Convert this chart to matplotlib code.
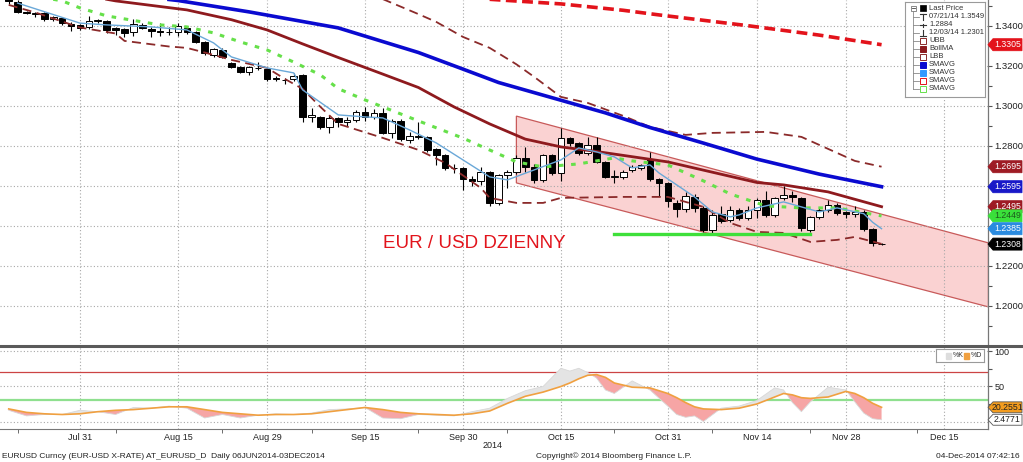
import numpy as np
import pandas as pd
import matplotlib
matplotlib.use('Agg')
import matplotlib.pyplot as plt
from matplotlib.patches import Polygon, Rectangle
from matplotlib.lines import Line2D
from matplotlib.transforms import blended_transform_factory
from matplotlib import font_manager

names = {f.name for f in font_manager.fontManager.ttflist}
NARROW = 'Liberation Sans Narrow' in names
plt.rcParams['font.family'] = ['Liberation Sans Narrow', 'Liberation Sans', 'DejaVu Sans'] if NARROW else ['Liberation Sans', 'DejaVu Sans']

# ---------------- DATA ----------------
BASE = '2014-07-21'
candle_dates = pd.bdate_range('2014-07-21', '2014-12-04')

opens = [1.3535, 1.3520, 1.3467, 1.3461, 1.3465, 1.3435, 1.3437, 1.3408, 1.3402, 1.3392,
         1.3425, 1.3425, 1.3387, 1.3382, 1.3368, 1.3403, 1.3385, 1.3372, 1.3368, 1.3367,
         1.3390, 1.3367, 1.3320, 1.3254, 1.3278, 1.3212, 1.3195, 1.3167, 1.3190, 1.3182,
         1.3140, 1.3130, 1.3132, 1.3153, 1.2945, 1.2945, 1.2892, 1.2937, 1.2920, 1.2928,
         1.2970, 1.2942, 1.2962, 1.2862, 1.2925, 1.2830, 1.2845, 1.2845, 1.2782, 1.2753,
         1.2688, 1.2687, 1.2632, 1.2623, 1.2670, 1.2512, 1.2653, 1.2670, 1.2737, 1.2692,
         1.2628, 1.2753, 1.2665, 1.2837, 1.2812, 1.2762, 1.2803, 1.2720, 1.2645, 1.2645,
         1.2678, 1.2687, 1.2732, 1.2632, 1.2615, 1.2515, 1.2482, 1.2545, 1.2487, 1.2379,
         1.2457, 1.2429, 1.2479, 1.2437, 1.2479, 1.2529, 1.2454, 1.2537, 1.2554, 1.2537,
         1.2379, 1.2445, 1.2479, 1.2504, 1.2467, 1.2457, 1.2470, 1.2382, 1.2308]
highs = [1.3549, 1.3528, 1.3473, 1.3470, 1.3470, 1.3450, 1.3445, 1.3420, 1.3410, 1.3448,
         1.3435, 1.3430, 1.3395, 1.3390, 1.3432, 1.3412, 1.3392, 1.3415, 1.3395, 1.3415,
         1.3398, 1.3372, 1.3325, 1.3290, 1.3290, 1.3220, 1.3200, 1.3198, 1.3220, 1.3190,
         1.3148, 1.3140, 1.3165, 1.3160, 1.2990, 1.2950, 1.2953, 1.2945, 1.2945, 1.2978,
         1.2995, 1.2985, 1.2990, 1.2935, 1.2935, 1.2870, 1.2920, 1.2850, 1.2790, 1.2760,
         1.2710, 1.2695, 1.2650, 1.2695, 1.2675, 1.2660, 1.2680, 1.2753, 1.2795, 1.2710,
         1.2760, 1.2760, 1.2887, 1.2845, 1.2820, 1.2845, 1.2845, 1.2725, 1.2680, 1.2680,
         1.2705, 1.2710, 1.2770, 1.2640, 1.2620, 1.2528, 1.2570, 1.2560, 1.2500, 1.2478,
         1.2500, 1.2500, 1.2490, 1.2500, 1.2540, 1.2575, 1.2545, 1.2600, 1.2575, 1.2545,
         1.2450, 1.2490, 1.2530, 1.2512, 1.2475, 1.2500, 1.2478, 1.2390, 1.2312]
lows = [1.3510, 1.3462, 1.3458, 1.3445, 1.3425, 1.3425, 1.3405, 1.3375, 1.3378, 1.3382,
        1.3415, 1.3362, 1.3352, 1.3345, 1.3348, 1.3385, 1.3342, 1.3348, 1.3353, 1.3350,
        1.3360, 1.3315, 1.3255, 1.3245, 1.3240, 1.3190, 1.3165, 1.3154, 1.3178, 1.3125,
        1.3125, 1.3110, 1.3125, 1.2920, 1.2920, 1.2885, 1.2862, 1.2895, 1.2900, 1.2920,
        1.2925, 1.2935, 1.2858, 1.2837, 1.2825, 1.2815, 1.2835, 1.2770, 1.2703, 1.2680,
        1.2665, 1.2579, 1.2600, 1.2604, 1.2500, 1.2505, 1.2588, 1.2660, 1.2670, 1.2615,
        1.2620, 1.2655, 1.2625, 1.2800, 1.2755, 1.2755, 1.2715, 1.2640, 1.2615, 1.2635,
        1.2670, 1.2680, 1.2625, 1.2548, 1.2494, 1.2445, 1.2470, 1.2470, 1.2370, 1.2360,
        1.2415, 1.2420, 1.2430, 1.2430, 1.2440, 1.2445, 1.2445, 1.2530, 1.2520, 1.2375,
        1.2370, 1.2435, 1.2470, 1.2455, 1.2440, 1.2445, 1.2375, 1.2301, 1.2302]
closes = [1.3522, 1.3470, 1.3465, 1.3463, 1.3432, 1.3442, 1.3412, 1.3398, 1.3388, 1.3425,
          1.3427, 1.3378, 1.3378, 1.3365, 1.3408, 1.3390, 1.3373, 1.3370, 1.3370, 1.3400,
          1.3370, 1.3320, 1.3262, 1.3282, 1.3245, 1.3195, 1.3170, 1.3192, 1.3187, 1.3134,
          1.3132, 1.3128, 1.3150, 1.2945, 1.2953, 1.2895, 1.2937, 1.2917, 1.2928, 1.2970,
          1.2942, 1.2962, 1.2862, 1.2925, 1.2832, 1.2849, 1.2847, 1.2778, 1.2753, 1.2687,
          1.2690, 1.2632, 1.2625, 1.2670, 1.2512, 1.2653, 1.2670, 1.2737, 1.2695, 1.2628,
          1.2753, 1.2662, 1.2837, 1.2812, 1.2762, 1.2803, 1.2720, 1.2645, 1.2647, 1.2670,
          1.2695, 1.2703, 1.2632, 1.2615, 1.2525, 1.2482, 1.2548, 1.2487, 1.2379, 1.2453,
          1.2423, 1.2479, 1.2437, 1.2479, 1.2529, 1.2454, 1.2537, 1.2554, 1.2542, 1.2387,
          1.2445, 1.2479, 1.2504, 1.2465, 1.2457, 1.2470, 1.2382, 1.2312, 1.2308]

sma200_dates = ['2014-10-03', '2014-10-15', '2014-10-24', '2014-10-30', '2014-11-13', '2014-11-25', '2014-12-04']
sma200_vals = [1.3532, 1.3509, 1.3477, 1.3454, 1.3400, 1.3353, 1.3305]

sma100_dates = ['2014-08-14', '2014-08-15', '2014-08-27', '2014-09-10', '2014-09-23', '2014-09-30', '2014-10-06',
                '2014-10-14', '2014-10-22', '2014-10-29', '2014-11-06', '2014-11-14', '2014-11-25', '2014-12-04']
sma100_vals = [1.3531, 1.3526, 1.3469, 1.3389, 1.3266, 1.3183, 1.3116, 1.3040, 1.2964, 1.2891, 1.2813, 1.2733, 1.2658, 1.2595]

bollma_dates = ['2014-08-05', '2014-08-06', '2014-08-18', '2014-08-25', '2014-08-29', '2014-09-04', '2014-09-10',
                '2014-09-17', '2014-09-23', '2014-09-29', '2014-10-03', '2014-10-09', '2014-10-15', '2014-10-21',
                '2014-10-31', '2014-11-14', '2014-11-19', '2014-11-26', '2014-12-04']
bollma_vals = [1.3532, 1.3524, 1.3479, 1.3430, 1.3379, 1.3309, 1.3241, 1.3158, 1.3091, 1.2994, 1.2909, 1.2833,
               1.2794, 1.2771, 1.2719, 1.2616, 1.2604, 1.2569, 1.2495]

sma_green_dates = ['2014-07-28', '2014-07-29', '2014-07-31', '2014-08-05', '2014-08-13', '2014-08-18', '2014-08-21',
                   '2014-08-26', '2014-08-29', '2014-09-03', '2014-09-08', '2014-09-10', '2014-09-15', '2014-09-23',
                   '2014-09-30', '2014-10-08', '2014-10-13', '2014-10-17', '2014-10-23', '2014-10-27', '2014-10-31',
                   '2014-11-06', '2014-11-11', '2014-11-17', '2014-11-21', '2014-11-27', '2014-12-04']
sma_green_vals = [1.3532, 1.3524, 1.3489, 1.3449, 1.3404, 1.3394, 1.3364, 1.3319, 1.3279, 1.3218, 1.3154, 1.3085,
                  1.3029, 1.2924, 1.2838, 1.2719, 1.2694, 1.2709, 1.2739, 1.2724, 1.2704, 1.2624, 1.2559, 1.2499,
                  1.2489, 1.2489, 1.2449]

sma_fast_dates = ['2014-07-22', '2014-07-31', '2014-08-05', '2014-08-12', '2014-08-18', '2014-08-21', '2014-08-25',
                  '2014-08-29', '2014-09-03', '2014-09-04', '2014-09-10', '2014-09-15', '2014-09-17', '2014-09-22',
                  '2014-09-25', '2014-09-30', '2014-10-03', '2014-10-07', '2014-10-10', '2014-10-15', '2014-10-17',
                  '2014-10-21', '2014-10-23', '2014-10-27', '2014-10-29', '2014-10-30', '2014-11-03', '2014-11-05',
                  '2014-11-07', '2014-11-11', '2014-11-12', '2014-11-14', '2014-11-19', '2014-11-21', '2014-11-25',
                  '2014-11-27', '2014-12-02', '2014-12-03', '2014-12-04']
sma_fast_vals = [1.3513, 1.3413, 1.3404, 1.3394, 1.3379, 1.3314, 1.3244, 1.3189, 1.3164, 1.3079, 1.2954, 1.2944,
                 1.2939, 1.2879, 1.2814, 1.2729, 1.2644, 1.2629, 1.2679, 1.2729, 1.2789, 1.2769, 1.2744, 1.2689,
                 1.2704, 1.2664, 1.2604, 1.2544, 1.2469, 1.2444, 1.2454, 1.2489, 1.2519, 1.2494, 1.2469, 1.2489,
                 1.2460, 1.2417, 1.2385]

lbb_dates = ['2014-07-21', '2014-07-24', '2014-07-31', '2014-08-06', '2014-08-07', '2014-08-14', '2014-08-18',
             '2014-08-20', '2014-08-25', '2014-08-29', '2014-09-02', '2014-09-04', '2014-09-08', '2014-09-10',
             '2014-09-17', '2014-09-23', '2014-09-26', '2014-10-02', '2014-10-03', '2014-10-08', '2014-10-13',
             '2014-10-15', '2014-10-24', '2014-10-31', '2014-11-06', '2014-11-11', '2014-11-14', '2014-11-19',
             '2014-11-24', '2014-11-27', '2014-12-01', '2014-12-04']
lbb_vals = [1.3504, 1.3466, 1.3391, 1.3361, 1.3324, 1.3296, 1.3289, 1.3266, 1.3229, 1.3189, 1.3134, 1.3084,
            1.2994, 1.2909, 1.2839, 1.2779, 1.2714, 1.2589, 1.2539, 1.2514, 1.2514, 1.2539, 1.2544, 1.2544,
            1.2494, 1.2414, 1.2369, 1.2364, 1.2319, 1.2329, 1.2344, 1.2309]

ubb_dates = ['2014-09-17', '2014-09-23', '2014-09-25', '2014-09-30', '2014-10-03', '2014-10-08', '2014-10-10',
             '2014-10-15', '2014-10-20', '2014-10-24', '2014-10-29', '2014-11-04', '2014-11-07', '2014-11-17',
             '2014-11-21', '2014-11-27', '2014-12-01', '2014-12-04']
ubb_vals = [1.3533, 1.3458, 1.3419, 1.3344, 1.3289, 1.3207, 1.3144, 1.3044, 1.3014, 1.2949, 1.2894, 1.2854,
            1.2864, 1.2869, 1.2844, 1.2764, 1.2724, 1.2695]

channel_dates = ['2014-10-08', '2014-12-22']
channel_top = [1.2948, 1.2314]
channel_bottom = [1.2614, 1.1994]
support_dates = ['2014-10-23', '2014-11-24']
support_level = 1.2358

osc_dates = ['2014-07-21', '2014-07-23', '2014-07-25', '2014-07-29', '2014-07-31', '2014-08-04', '2014-08-06',
             '2014-08-08', '2014-08-12', '2014-08-14', '2014-08-18', '2014-08-20', '2014-08-22', '2014-08-26',
             '2014-08-28', '2014-09-01', '2014-09-03', '2014-09-05', '2014-09-09', '2014-09-11', '2014-09-15',
             '2014-09-17', '2014-09-19', '2014-09-23', '2014-09-25', '2014-09-29', '2014-10-01', '2014-10-03',
             '2014-10-07', '2014-10-09', '2014-10-13', '2014-10-15', '2014-10-16', '2014-10-17', '2014-10-20',
             '2014-10-21', '2014-10-22', '2014-10-23', '2014-10-27', '2014-10-29', '2014-10-31', '2014-11-03',
             '2014-11-04', '2014-11-05', '2014-11-06', '2014-11-10', '2014-11-12', '2014-11-14', '2014-11-18',
             '2014-11-19', '2014-11-20', '2014-11-21', '2014-11-24', '2014-11-26', '2014-11-28', '2014-12-01',
             '2014-12-02', '2014-12-03', '2014-12-04']
stoch_d = [18, 13, 11, 10, 11, 14, 16, 17, 19, 21, 21, 17, 13, 11, 9, 10, 10, 11, 14, 17, 20, 17, 13, 11, 10,
           9, 11, 15, 26, 36, 42, 50, 55, 61, 66, 67, 63, 55, 49, 48, 40, 34, 27, 21, 18, 17, 19, 25, 35, 40,
           38, 34, 33, 35, 43, 40, 34, 26, 20.2551]
stoch_k = [16, 8, 10, 10, 16, 14, 10, 20, 19, 22, 19, 5, 10, 5, 9, 11, 10, 12, 17, 18, 20, 5, 4, 10, 9,
           8, 14, 19, 33, 44, 50, 76, 72, 76, 70, 62, 45, 40, 58, 45, 22, 10, 6, 8, 0, 19, 22, 30, 48, 45,
           27, 14, 28, 49, 45, 28, 12, 4, 2.4771]

xtick_dates = ['2014-07-31', '2014-08-15', '2014-08-29', '2014-09-15', '2014-09-30', '2014-10-15',
               '2014-10-31', '2014-11-14', '2014-11-28', '2014-12-15']
xtick_labels = ['Jul 31', 'Aug 15', 'Aug 29', 'Sep 15', 'Sep 30', 'Oct 15', 'Oct 31', 'Nov 14', 'Nov 28', 'Dec 15']
xminor_dates = ['2014-07-22', '2014-08-06', '2014-08-22', '2014-09-05', '2014-09-23', '2014-10-07',
                '2014-10-23', '2014-11-07', '2014-11-24', '2014-12-10']
ytick_vals = [1.20, 1.22, 1.24, 1.26, 1.28, 1.30, 1.32, 1.34]
ytick_labels = ['1.2000', '1.2200', '', '', '1.2800', '1.3000', '1.3200', '1.3400']

price_tags = [(1.3305, '1.3305', '#e3131b', 'white'),
              (1.2695, '1.2695', '#9e1b24', 'white'),
              (1.2595, '1.2595', '#1818c8', 'white'),
              (1.2495, '1.2495', '#9e1b24', 'white'),
              (1.2449, '1.2449', '#3ae03a', '#1d5a1d'),
              (1.2385, '1.2385', '#2a8be0', 'white'),
              (1.2308, '1.2308', '#000000', 'white')]
osc_tags = [(20.2551, '20.2551', '#f39c1e', '#222222'),
            (2.4771, '2.4771', '#ffffff', '#222222')]


def didx(d):
    return np.busday_count(BASE, np.array(d, dtype='datetime64[D]'))


# ---------------- FIGURE ----------------
W, H = 1023, 462
fig = plt.figure(figsize=(W / 100, H / 100), dpi=100)
fig.patch.set_facecolor('white')
ax = fig.add_axes([0, 1 - 344 / H, 988 / W, 344 / H])
ax2 = fig.add_axes([0, 1 - 429 / H, 988 / W, (429 - 347) / H])

XL = (-0.977, 109.95)
ax.set_xlim(*XL)
ax.set_ylim(1.18085, 1.35285)
ax2.set_xlim(*XL)
ax2.set_ylim(-10.7, 106.4)

grid_kw = dict(color='#a8a8a8', lw=0.8, ls=(0, (1, 2)), zorder=1.5)
xt = didx(xtick_dates)
for v in xt:
    ax.axvline(v, **grid_kw)
    ax2.axvline(v, **grid_kw)
for v in ytick_vals:
    ax.axhline(v, **grid_kw)
for v in [0, 50, 100]:
    ax2.axhline(v, **grid_kw)

# channel
cx = didx(channel_dates)
ax.add_patch(Polygon([(cx[0], channel_top[0]), (cx[1], channel_top[1]),
                      (cx[1], channel_bottom[1]), (cx[0], channel_bottom[0])],
                     closed=True, fc='#fad2d2', ec='#c85a5a', lw=0.9, zorder=1))

# candles
x = didx(candle_dates.strftime('%Y-%m-%d').tolist())
o = np.array(opens); h = np.array(highs); l = np.array(lows); c = np.array(closes)
ax.vlines(x, l, h, color='black', lw=0.8, zorder=3)
body_lo = np.minimum(o, c)
body_h = np.maximum(np.abs(c - o), 0.00008)
cols = ['white' if cc >= oo else 'black' for oo, cc in zip(o, c)]
ax.bar(x, body_h, bottom=body_lo, width=0.74, color=cols, edgecolor='black', lw=0.7, zorder=4)

# indicator lines
ax.plot(didx(lbb_dates), lbb_vals, color='#8b2a2a', lw=1.3, ls=(0, (5, 3)), zorder=5)
ax.plot(didx(ubb_dates), ubb_vals, color='#8b2a2a', lw=1.3, ls=(0, (5, 3)), zorder=5)
ax.plot(didx(bollma_dates), bollma_vals, color='#8e1a1e', lw=2.0, zorder=5)
ax.plot(didx(sma100_dates), sma100_vals, color='#0a0ad0', lw=2.6, zorder=5)
ax.plot(didx(sma200_dates), sma200_vals, color='#e3131b', lw=2.6, ls=(0, (3, 1.5)), zorder=5)
ax.plot(didx(sma_green_dates), sma_green_vals, color='#66e04a', lw=2.2, ls=(0, (1.5, 2.5)), zorder=5)
ax.plot(didx(sma_fast_dates), sma_fast_vals, color='#6aa8d8', lw=1.0, zorder=6)

sd = didx(support_dates)
ax.plot(sd, [support_level, support_level], color='#3ee03a', lw=2.4, zorder=6)

ax.text(474 / 988, 1 - 243 / 344, 'EUR / USD DZIENNY', transform=ax.transAxes,
        ha='center', va='center', color='#e2141c', fontsize=16.5 if NARROW else 13.5, zorder=7)

# axes styling
for a in (ax, ax2):
    for s in ('top', 'left'):
        a.spines[s].set_visible(False)
    a.spines['right'].set_color('#777777')
    a.spines['right'].set_linewidth(0.9)
ax.spines['bottom'].set_visible(False)
ax2.spines['bottom'].set_color('#777777')

ax.yaxis.tick_right()
ax.set_yticks(ytick_vals)
ax.set_yticklabels(ytick_labels)
ax.set_yticks(np.arange(1.19, 1.35, 0.02), minor=True)
ax.tick_params(axis='y', which='both', direction='out', length=3, width=0.8, color='#555555',
               labelsize=6.8, pad=1.5, labelcolor='#222222')
ax.set_xticks(xt)
ax.tick_params(axis='x', which='both', length=0, labelbottom=False)

ax2.yaxis.tick_right()
ax2.set_yticks([50, 100])
ax2.set_yticklabels(['50', '100'])
ax2.set_yticks([25, 75], minor=True)
ax2.tick_params(axis='y', which='both', direction='out', length=3, width=0.8, color='#555555',
                labelsize=6.5, pad=1.5, labelcolor='#222222')
ax2.set_xticks(xt)
ax2.set_xticklabels(xtick_labels)
ax2.set_xticks(didx(xminor_dates), minor=True)
ax2.tick_params(axis='x', which='major', length=0, labelsize=6.5, pad=3, labelcolor='#222222')
ax2.tick_params(axis='x', which='minor', length=3, direction='out', color='#555555')

# oscillator
ox = didx(osc_dates)
kd = np.array(stoch_k, float); dd = np.array(stoch_d, float)
ax2.axhline(70, color='#cc4444', lw=0.9, zorder=2)
ax2.axhline(30, color='#8fe08f', lw=1.6, zorder=2)
ax2.fill_between(ox, kd, dd, where=kd >= dd, interpolate=True, color='#e4e4e4', lw=0, zorder=3)
ax2.fill_between(ox, kd, dd, where=kd < dd, interpolate=True, color='#f6a5a5', lw=0, zorder=3)
ax2.plot(ox, kd, color='#d8d8d8', lw=0.6, zorder=4)
ax2.plot(ox, dd, color='#f0a040', lw=1.2, zorder=5)


# right side tags
def tag(axx, y, txt, fc, tc, hh, ec=None):
    tr = blended_transform_factory(axx.transAxes, axx.transData)
    w = 34 / 988
    tip = 5 / 988
    pts = [(1.0, y), (1.0 + tip, y + hh), (1.0 + w, y + hh), (1.0 + w, y - hh), (1.0 + tip, y - hh)]
    axx.add_patch(Polygon(pts, closed=True, transform=tr, fc=fc, ec=ec if ec else fc, lw=0.6,
                          clip_on=False, zorder=10))
    axx.text(1.0 + tip + (w - tip) / 2, y, txt, transform=tr, ha='center', va='center',
             fontsize=6.3, color=tc, clip_on=False, zorder=11)


for v, t, fc, tc in price_tags:
    tag(ax, v, t, fc, tc, 0.0030)
for v, t, fc, tc in osc_tags:
    tag(ax2, v, t, fc, tc, 7.8, ec='#555555')

# separator between panels
fig.add_artist(Line2D([0, 1], [1 - 345.5 / H] * 2, color='#5a5a5a', lw=2.2))

# legend (main)
lax = fig.add_axes([905 / W, 1 - 97 / H, 80 / W, 95 / H])
lax.set_xlim(905, 985)
lax.set_ylim(97, 2)
lax.set_xticks([]); lax.set_yticks([])
for s in lax.spines.values():
    s.set_color('#9a9a9a'); s.set_linewidth(0.8)
leg_rows = [8, 16.5, 25, 33, 41, 49, 57, 65, 73, 81, 89]
leg_texts = ['Last Price', '07/21/14 1.3549', '1.2884', '12/03/14 1.2301', 'UBB', 'BollMA', 'LBB',
             'SMAVG', 'SMAVG', 'SMAVG', 'SMAVG']
lax.plot([913, 913], [11, 89], color='#888888', lw=0.6)
for yy in leg_rows[1:]:
    lax.plot([913, 919], [yy, yy], color='#888888', lw=0.6)
lax.add_patch(Rectangle((910.5, 5.5), 5, 5, fc='white', ec='#777777', lw=0.6))
lax.plot([911.5, 914.5], [8, 8], color='#444444', lw=0.6)
for yy, t in zip(leg_rows, leg_texts):
    lax.text(929, yy, t, fontsize=5.5, va='center', ha='left', color='#333333')
lax.add_patch(Rectangle((920, 5), 6, 6, fc='black', ec='black', lw=0.5))
lax.plot([920, 926], [13.5, 13.5], color='#333333', lw=0.8)
lax.plot([923, 923], [13.5, 19.5], color='#333333', lw=0.8)
lax.plot([920, 926], [25, 25], color='#333333', lw=0.8)
lax.plot([923, 923], [23.5, 26.5], color='#333333', lw=0.8)
lax.plot([923, 923], [30, 36], color='#333333', lw=0.8)
lax.plot([920, 926], [36, 36], color='#333333', lw=0.8)
icon = [(41, 'white', '#8b2a2a'), (49, '#8e1a1e', '#8e1a1e'), (57, 'white', '#8b2a2a'),
        (65, '#0a0ad0', '#0a0ad0'), (73, '#3399ff', '#3399ff'), (81, 'white', '#e3131b'),
        (89, 'white', '#66e04a')]
for yy, f, e in icon:
    lax.add_patch(Rectangle((920, yy - 3), 6, 6, fc=f, ec=e, lw=0.7))

# legend (oscillator)
lax2 = fig.add_axes([936 / W, 1 - 362 / H, 48 / W, 13 / H])
lax2.set_xlim(0, 48); lax2.set_ylim(0, 13)
lax2.set_xticks([]); lax2.set_yticks([])
for s in lax2.spines.values():
    s.set_color('#9a9a9a'); s.set_linewidth(0.8)
lax2.add_patch(Rectangle((10, 3.5), 5, 6, fc='#dddddd', ec='#dddddd'))
lax2.text(16.5, 6.5, '%K', fontsize=5, va='center', color='#333333')
lax2.add_patch(Rectangle((28, 3.5), 5, 6, fc='#f0a040', ec='#f0a040'))
lax2.text(34.5, 6.5, '%D', fontsize=5, va='center', color='#333333')

# texts below
fig.text(493 / W, 1 - 446 / H, '2014', ha='center', va='center', fontsize=6.5, color='#222222')
fig.text(2 / W, 1 - 456 / H, 'EURUSD Curncy (EUR-USD X-RATE) AT_EURUSD_D  Daily 06JUN2014-03DEC2014',
         ha='left', va='center', fontsize=6, color='#222222')
fig.text(614 / W, 1 - 456 / H, 'Copyright\u00a9 2014 Bloomberg Finance L.P.', ha='center', va='center',
         fontsize=6, color='#222222')
fig.text(1020 / W, 1 - 456 / H, '04-Dec-2014 07:42:16', ha='right', va='center', fontsize=6, color='#222222')

fig.savefig('out.png', dpi=100, facecolor='white')
